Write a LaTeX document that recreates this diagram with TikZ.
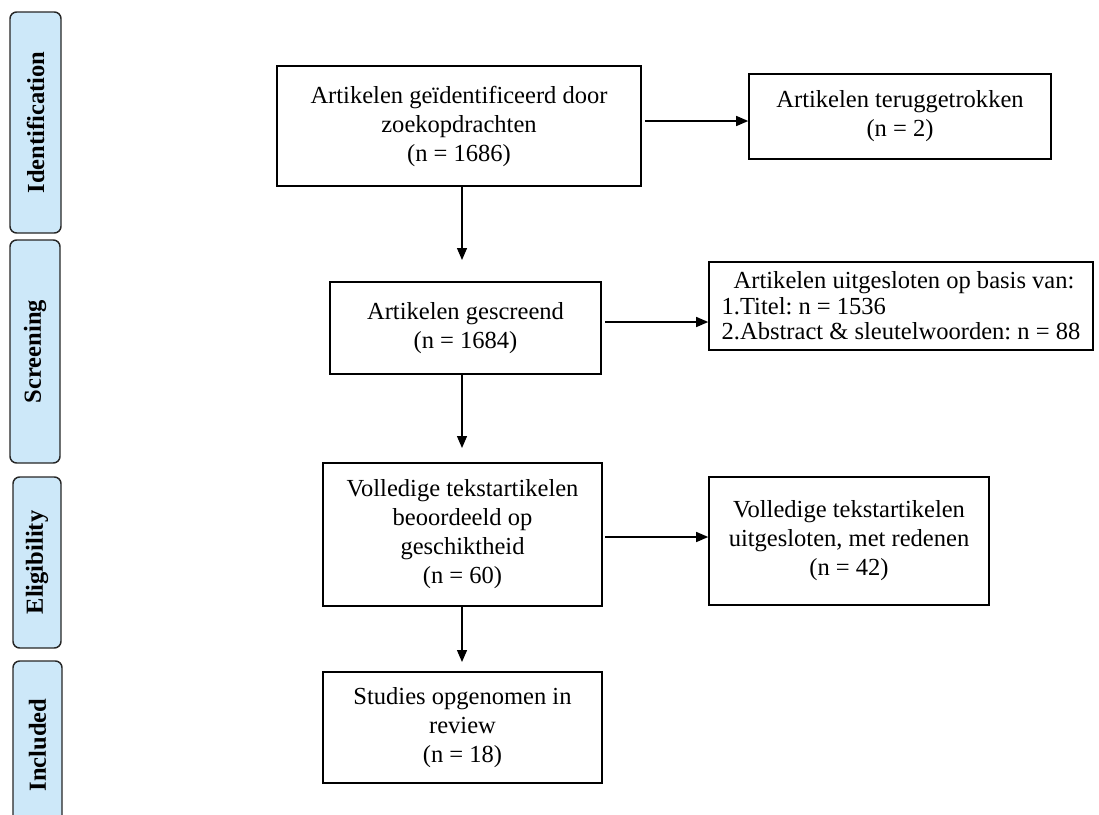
\documentclass[tikz,border=0pt]{standalone}
\usepackage{fontspec}
\setmainfont{Liberation Serif}
\usetikzlibrary{arrows.meta}
\definecolor{tabblue}{HTML}{CDE8F9}
\frenchspacing
\begin{document}
\begin{tikzpicture}[x=0.75pt,y=-0.75pt,
  box/.style={draw=black, line width=1.2pt, rectangle, align=center, inner sep=0pt,
    font=\fontsize{18.4}{21.75}\selectfont},
  tab/.style={draw=black!85, line width=1.1pt, fill=tabblue, rounded corners=5pt, rotate=90,
    inner sep=0pt, font=\fontsize{18.4}{21.75}\selectfont\bfseries},
  arr/.style={draw=black, line width=1pt, -{Triangle[length=9pt,width=7.5pt]}}]
\useasboundingbox (0,0) rectangle (1099,814);
% phase tabs
\node[tab, minimum width=165.75pt, minimum height=38.25pt] (t1) at (35.5,122.5) {Identification};
\node[tab, minimum width=167.25pt, minimum height=37.5pt] (t2) at (35,351.5) {Screening};
\node[tab, minimum width=128.25pt, minimum height=36pt] (t3) at (37,562.5) {Eligibility};
\node[tab, minimum width=126pt, minimum height=36.75pt] (t4) at (37.5,745) {Included};
% boxes
\node[box, minimum width=273pt, minimum height=90pt] (b1) at (459,126)
  {Artikelen geïdentificeerd door\\zoekopdrachten\\(n = 1686)};
\node[box, minimum width=226.5pt, minimum height=63.75pt] (b1r) at (900,116.5)
  {Artikelen teruggetrokken\\(n = 2)};
\node[box, minimum width=203.25pt, minimum height=69pt] (b2) at (465.5,328)
  {Artikelen gescreend\\(n = 1684)};
\node[box, minimum width=288pt, minimum height=66pt, align=left,
  font=\fontsize{18.4}{19.2}\selectfont] (b3) at (901,306)
  {\hspace*{9pt}Artikelen uitgesloten op basis van:\\1.Titel: n = 1536\\2.Abstract \& sleutelwoorden: n = 88};
\node[box, minimum width=209.25pt, minimum height=107.25pt] (b4) at (462.5,534.5)
  {Volledige tekstartikelen\\beoordeeld op\\geschiktheid\\(n = 60)};
\node[box, minimum width=210pt, minimum height=96pt] (b5) at (849,541)
  {Volledige tekstartikelen\\uitgesloten, met redenen\\(n = 42)};
\node[box, minimum width=209.25pt, minimum height=83.25pt] (b6) at (462.5,727.5)
  {Studies opgenomen in\\review\\(n = 18)};
% connectors
\coordinate (a1s) at (645,121);
\coordinate (a2s) at (605,322);
\coordinate (a3s) at (605,537);
\coordinate (v1e) at (462,260);
\coordinate (v2e) at (462,448);
\coordinate (v3e) at (462,662);
\draw[arr] (a1s) -- (b1r.west |- a1s);
\draw[arr] (a2s) -- (b3.west |- a2s);
\draw[arr] (a3s) -- (b5.west |- a3s);
\draw[arr] (b1.south -| v1e) -- (v1e);
\draw[arr] (b2.south -| v2e) -- (v2e);
\draw[arr] (b4.south -| v3e) -- (v3e);
\end{tikzpicture}
\end{document}
